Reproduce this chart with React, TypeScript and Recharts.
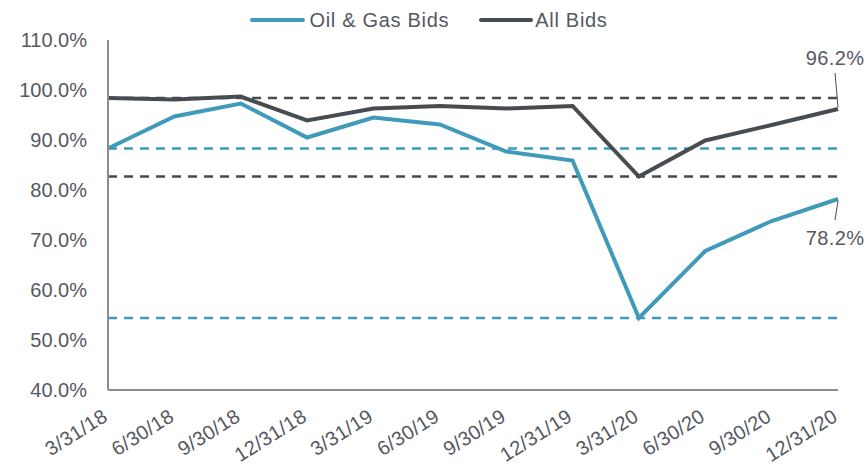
import { LineChart, Line, XAxis, YAxis, ReferenceLine, Legend, LabelList } from "recharts";

const quarters = [
  "3/31/18", "6/30/18", "9/30/18", "12/31/18", "3/31/19", "6/30/19",
  "9/30/19", "12/31/19", "3/31/20", "6/30/20", "9/30/20", "12/31/20",
];
const oilGasBids = [88.3, 94.7, 97.3, 90.5, 94.5, 93.1, 87.7, 85.9, 54.4, 67.8, 73.8, 78.2];
const allBids = [98.4, 98.1, 98.7, 93.9, 96.3, 96.8, 96.3, 96.8, 82.7, 89.9, 93.0, 96.2];
const yTicks = [40, 50, 60, 70, 80, 90, 100, 110];

const TEAL = "#3f9bb9";
const DARK = "#474b52";
const TEXT = "#55595f";
const AXIS = "#8c8c8c";
const FONT = "'Liberation Sans', Arial, Helvetica, sans-serif";

const data = quarters.map((q, i) => ({ quarter: q, oil: oilGasBids[i], all: allBids[i] }));

// reference lines: starting level and low point of each series
const oilStart = oilGasBids[0];
const oilMin = Math.min(...oilGasBids);
const allStart = allBids[0];
const allMin = Math.min(...allBids);

const fmt = (v: number) => v.toFixed(1) + "%";

const XTick = (props: any) => {
  const { x, payload } = props;
  return (
    <g transform={`translate(${x + 1},${420})`}>
      <text transform="rotate(-32)" textAnchor="end" fill={TEXT} fontSize={20} fontFamily={FONT} letterSpacing={0.3}>
        {payload.value}
      </text>
    </g>
  );
};

// callout on the last point only
const makeEndLabel = (last: number, dy1: number, dy2: number, textY: number) => (props: any) => {
  const { x, y, index, value } = props;
  if (index !== last) return null;
  return (
    <g>
      <line x1={x} y1={y + dy1} x2={x - 3} y2={y + dy2} stroke={DARK} strokeWidth={1} />
      <text x={x - 3} y={y + textY} textAnchor="middle" fill={TEXT} fontSize={20} fontFamily={FONT} letterSpacing={0.4}>
        {fmt(value)}
      </text>
    </g>
  );
};

const LegendContent = () => (
  <div style={{ display: "flex", justifyContent: "center", alignItems: "center", height: 40, fontFamily: FONT, fontSize: 20, color: TEXT, letterSpacing: 0.7, paddingLeft: 20 }}>
    <svg width={55} height={6} style={{ marginRight: 4 }}>
      <line x1={2} y1={3} x2={53} y2={3} stroke={TEAL} strokeWidth={4} strokeLinecap="round" />
    </svg>
    <span style={{ marginRight: 30 }}>Oil &amp; Gas Bids</span>
    <svg width={54} height={6} style={{ marginRight: 2 }}>
      <line x1={2} y1={3} x2={52} y2={3} stroke={DARK} strokeWidth={4} strokeLinecap="round" />
    </svg>
    <span>All Bids</span>
  </div>
);

export default function App() {
  return (
    <div style={{ position: "absolute", left: 0, top: 0, background: "#fff" }}>
      <LineChart width={867} height={467} data={data} margin={{ top: 0, right: 29, left: 0, bottom: 0 }}>
        <Legend verticalAlign="top" align="center" height={40} wrapperStyle={{ height: 40 }} content={LegendContent} />
        <XAxis
          dataKey="quarter"
          interval={0}
          height={77}
          tick={<XTick />}
          tickLine={false}
          axisLine={{ stroke: AXIS, strokeWidth: 2 }}
        />
        <YAxis
          width={108}
          domain={[40, 110]}
          ticks={yTicks}
          tickFormatter={fmt}
          tickLine={false}
          tickSize={0}
          tickMargin={21}
          axisLine={{ stroke: AXIS, strokeWidth: 2 }}
          tick={{ fill: TEXT, fontSize: 20, fontFamily: FONT }}
        />
        <ReferenceLine y={allStart} stroke={DARK} strokeWidth={2.5} strokeDasharray="9 7" />
        <ReferenceLine y={oilStart} stroke={TEAL} strokeWidth={2.5} strokeDasharray="9 7" />
        <ReferenceLine y={allMin} stroke={DARK} strokeWidth={2.5} strokeDasharray="9 7" />
        <ReferenceLine y={oilMin} stroke={TEAL} strokeWidth={2.5} strokeDasharray="9 7" />
        <Line dataKey="oil" name="Oil & Gas Bids" stroke={TEAL} strokeWidth={4} dot={false} isAnimationActive={false}>
          <LabelList dataKey="oil" content={makeEndLabel(quarters.length - 1, 2, 21, 46)} />
        </Line>
        <Line dataKey="all" name="All Bids" stroke={DARK} strokeWidth={4} dot={false} isAnimationActive={false}>
          <LabelList dataKey="all" content={makeEndLabel(quarters.length - 1, -2, -36, -44)} />
        </Line>
      </LineChart>
    </div>
  );
}
